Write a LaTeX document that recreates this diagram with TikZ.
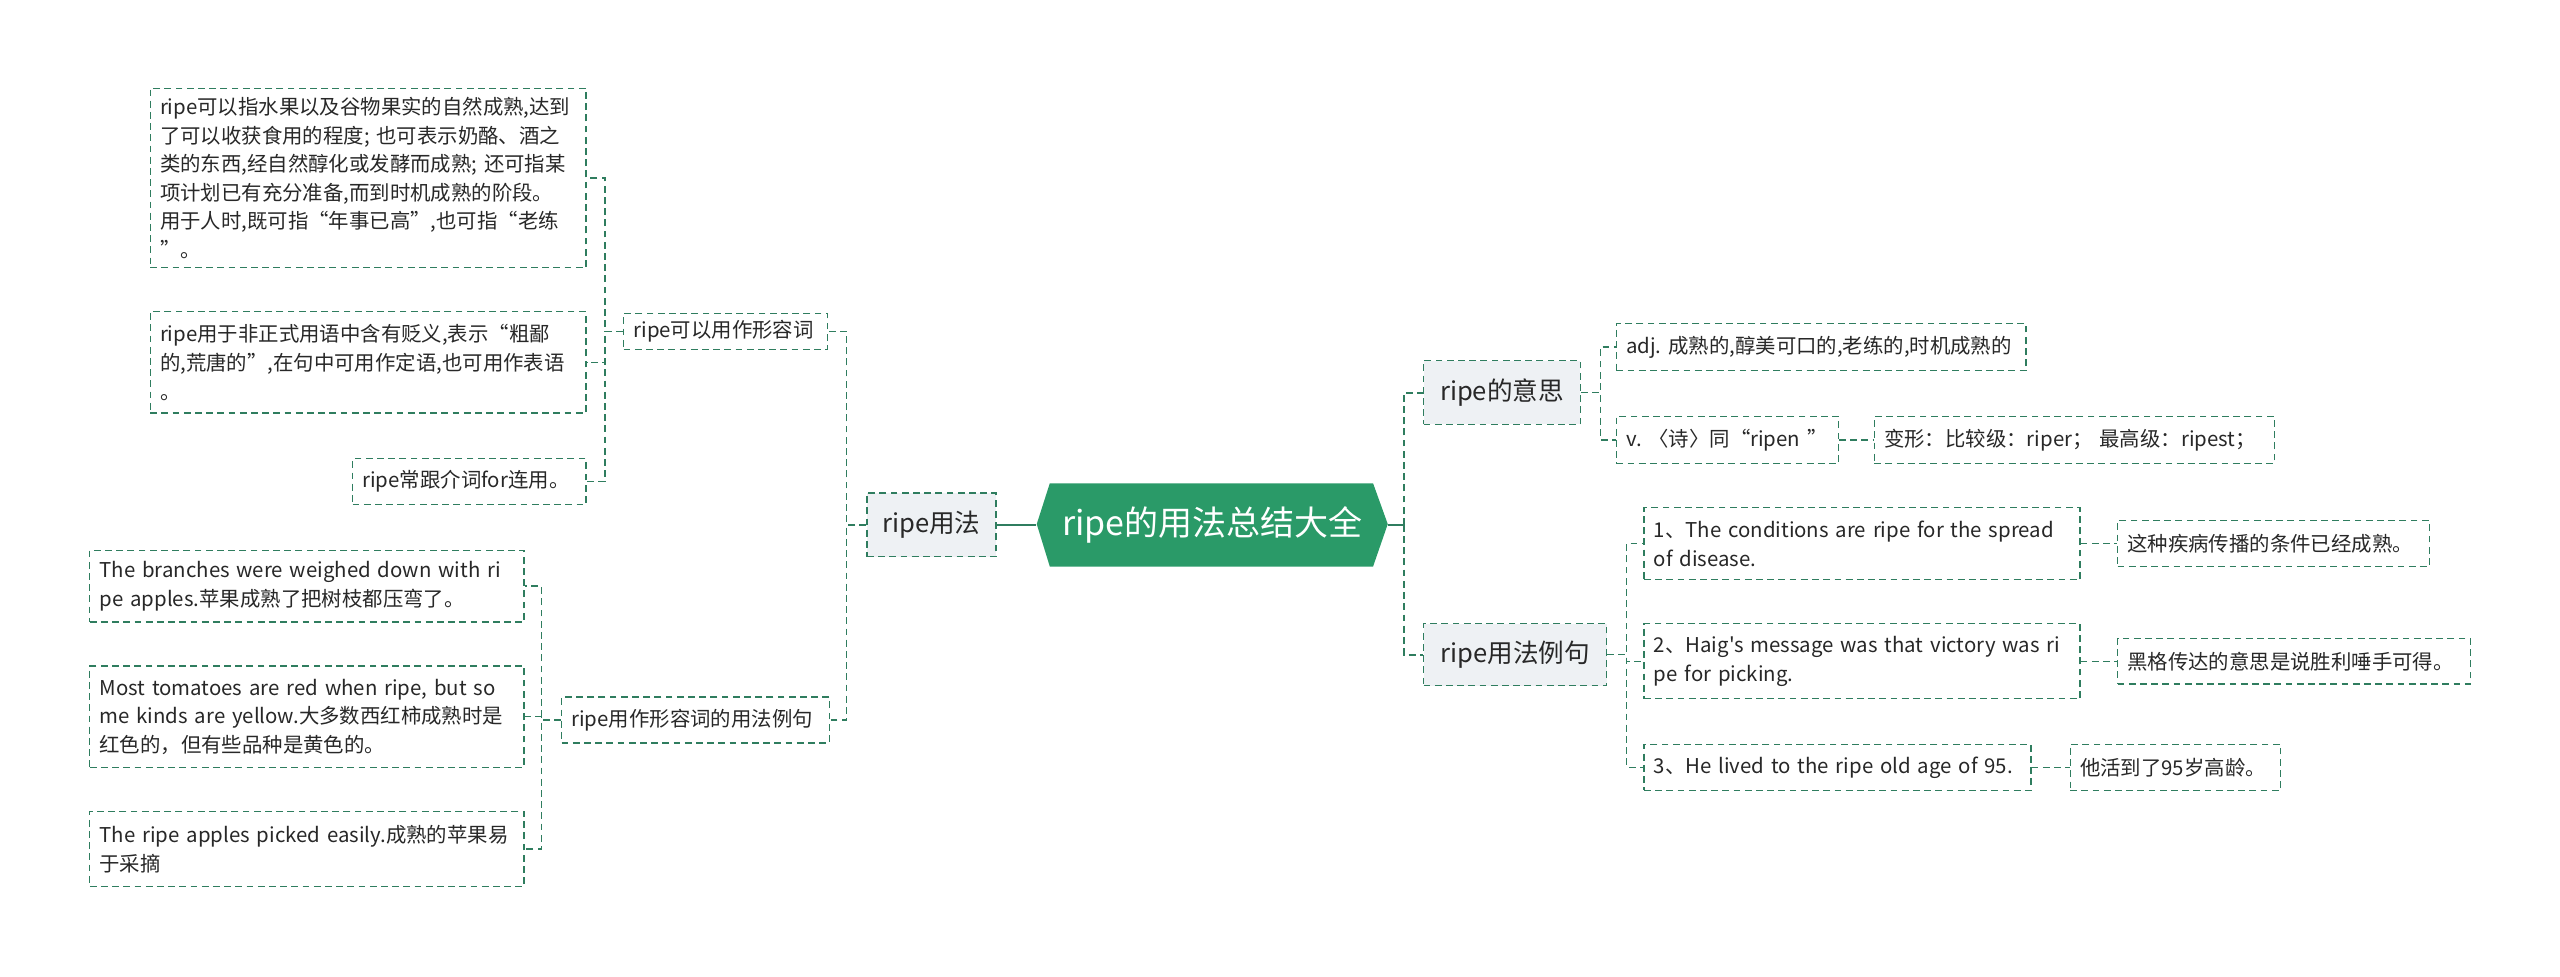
\documentclass[tikz,border=0pt]{standalone}
\usepackage{fontspec}
\newfontfamily\mainf{Noto Sans CJK SC}
\usetikzlibrary{calc}
\definecolor{bord}{RGB}{47,125,95}
\definecolor{cfill}{RGB}{42,154,104}
\definecolor{bfill}{RGB}{238,241,244}
\definecolor{txt}{RGB}{40,40,40}
\newcommand\nd[7]{%
 \pgfmathsetlengthmacro\ndw{(#4-#2)*0.8163pt}%
 \pgfmathsetlengthmacro\ndh{(#5-#3)*0.8163pt}%
 \pgfmathsetlengthmacro\ndt{(#4-#2-12)*0.8163pt}%
 \node[#6, minimum width=\ndw, minimum height=\ndh, text width=\ndt] (#1) at ({(#2+#4)/2},{(#3+#5)/2}) {#7};}
\tikzset{
 bx/.style={draw=bord, line width=0.65pt, dash pattern=on 3.4pt off 2.2pt, fill=white,
   inner xsep=4.9pt, inner ysep=0pt, align=left, text=txt,
   font=\mainf\fontsize{10.2pt}{14.3pt}\selectfont},
 br/.style={bx, fill=bfill, align=center, font=\mainf\fontsize{12.8pt}{15pt}\selectfont},
 conn/.style={draw=bord, line width=0.65pt, dash pattern=on 3.4pt off 2.2pt},
 thk/.style={draw=bord, line width=1.1pt},
 thkd/.style={draw=bord, line width=1.1pt, dash pattern=on 3.4pt off 2.2pt},
}
\begin{document}
\begin{tikzpicture}[x=0.8163pt,y=-0.8163pt]
\useasboundingbox (0,0) rectangle (1568,598);
% central node
\fill[cfill] (635,321) -- (643,296) -- (841,296) -- (850,321) -- (841,347) -- (643,347) -- cycle;
\node[text=white, font=\mainf\fontsize{17pt}{20pt}\selectfont, minimum width=215*0.8163pt, minimum height=51*0.8163pt, inner sep=0pt] (c) at (742.5,321.5) {ripe的用法总结大全};
% left side
\nd{u}{531}{302}{610}{341}{br}{ripe用法}
\nd{adj}{382}{192}{507}{214}{bx}{ripe可以用作形容词}
\nd{ex}{344}{427}{508}{455}{bx}{ripe用作形容词的用法例句}
\nd{a1}{92}{54}{359}{164}{bx}{ripe可以指水果以及谷物果实的自然成熟,达到\\了可以收获食用的程度; 也可表示奶酪、酒之\\类的东西,经自然醇化或发酵而成熟; 还可指某\\项计划已有充分准备,而到时机成熟的阶段。\\用于人时,既可指“年事已高”,也可指“老练\\”。}
\nd{a2}{92}{191}{359}{253}{bx}{ripe用于非正式用语中含有贬义,表示“粗鄙\\的,荒唐的”,在句中可用作定语,也可用作表语\\。}
\nd{a3}{216}{281}{359}{309}{bx}{ripe常跟介词for连用。}
\nd{e1}{55}{337}{321}{381}{bx}{The~branches~were~weighed~down~with~ri\\pe apples.苹果成熟了把树枝都压弯了。}
\nd{e2}{55}{408}{321}{470}{bx}{Most~tomatoes~are~red~when~ripe,~but~so\\me kinds are yellow.大多数西红柿成熟时是\\红色的，但有些品种是黄色的。}
\nd{e3}{55}{497}{321}{543}{bx}{The~ripe~apples~picked~easily.成熟的苹果易\\于采摘}
% right side
\nd{m}{872}{221}{968}{260}{br}{ripe的意思}
\nd{s}{872}{382}{984}{420}{br}{ripe用法例句}
\nd{k1}{990}{198}{1241}{227}{bx}{adj.~成熟的,醇美可口的,老练的,时机成熟的}
\nd{k2}{990}{255}{1126}{284}{bx}{v.~〈诗〉同“ripen~”}
\nd{k3}{1148}{255}{1393}{284}{bx}{变形：比较级：riper；~最高级：ripest；}
\nd{s1}{1007}{311}{1274}{355}{bx}{1、The~conditions~are~ripe~for~the~spread\\of disease.}
\nd{s2}{1007}{382}{1274}{428}{bx}{2、Haig's~message~was~that~victory~was~ri\\pe for picking.}
\nd{s3}{1007}{456}{1244}{484}{bx}{3、He~lived~to~the~ripe~old~age~of~95.}
\nd{t1}{1297}{319}{1488}{347}{bx}{这种疾病传播的条件已经成熟。}
\nd{t2}{1297}{391}{1513}{419}{bx}{黑格传达的意思是说胜利唾手可得。}
\nd{t3}{1268}{456}{1397}{484}{bx}{他活到了95岁高龄。}
% connectors
\draw[thk] (c.west) -- (u.east);
\coordinate (rt) at (860,321.5);
\draw[thk] (c.east) -- (rt);
\draw[thkd] (rt) |- (m.west);
\draw[thkd] (rt) |- (s.west);
\draw[conn] (u.west) -- ++(-12,0) |- (adj.east);
\draw[conn] (u.west) -- ++(-12,0) |- (ex.east);
\draw[conn] (adj.west) -- ++(-11,0) |- (a1.east);
\draw[conn] (adj.west) -- ++(-11,0) |- (a2.east);
\draw[conn] (adj.west) -- ++(-11,0) |- (a3.east);
\draw[conn] (ex.west) -- ++(-12,0) |- (e1.east);
\draw[conn] (ex.west) -- ++(-12,0) |- (e2.east);
\draw[conn] (ex.west) -- ++(-12,0) |- (e3.east);
\draw[conn] (m.east) -- ++(12,0) |- (k1.west);
\draw[conn] (m.east) -- ++(12,0) |- (k2.west);
\draw[conn] (k2.east) -- (k3.west);
\draw[conn] (s.east) -- ++(12,0) |- (s1.west);
\draw[conn] (s.east) -- ++(12,0) |- (s2.west);
\draw[conn] (s.east) -- ++(12,0) |- (s3.west);
\draw[conn] (s1.east) -- (t1.west);
\draw[conn] (s2.east) -- (t2.west);
\draw[conn] (s3.east) -- (t3.west);
\end{tikzpicture}
\end{document}
